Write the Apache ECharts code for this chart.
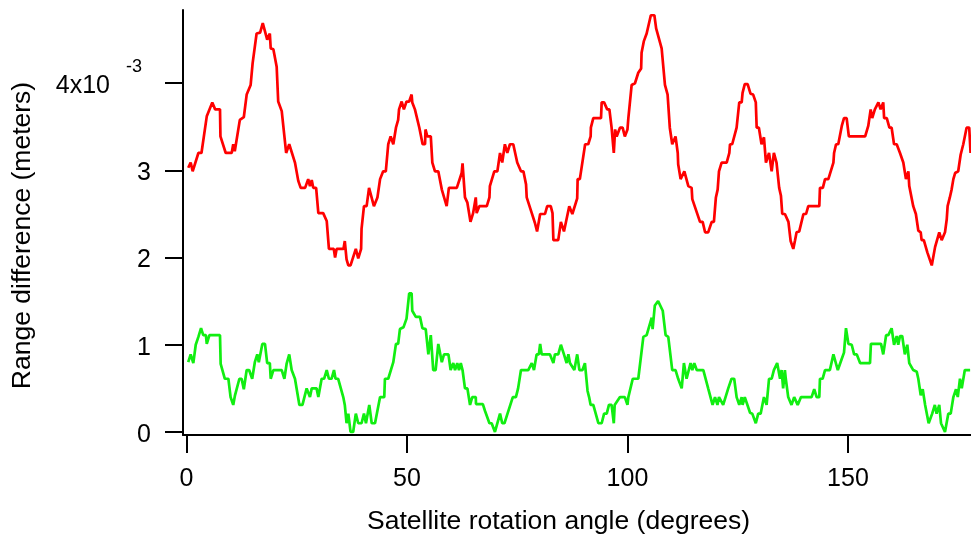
<!DOCTYPE html>
<html>
<head>
<meta charset="utf-8">
<script src="https://cdn.jsdelivr.net/npm/echarts@6/dist/echarts.min.js"></script>
<style>html,body{margin:0;padding:0;background:#fff}#c{width:971px;height:540px}</style>
</head>
<body>
<div id="c"></div>
<script>
// Range difference in units of 1e-3 m, angle in degrees
const redAngle = [0.4,0.95,1.4,2.7,3.4,4.6,5.85,6.5,7.6,7.7,8.9,10.25,10.6,10.95,12.1,13.0,13.65,14.55,15.0,15.9,16.7,17.3,18.3,18.9,19.1,19.7,20.45,20.8,21.6,22.6,23.3,24.6,25.0,25.35,25.9,26.9,27.6,28.0,28.4,28.75,29.4,29.9,31.0,31.8,32.3,33.4,33.7,34.05,35.6,35.9,36.3,36.7,37.2,38.4,38.95,39.6,39.7,40.25,40.85,41.4,42.5,43.3,43.9,44.6,45.2,45.75,46.3,46.9,47.5,48.0,48.2,48.8,49.3,49.9,50.5,51.05,51.2,51.8,52.8,53.55,54.1,54.2,54.6,55.4,55.75,56.35,57.1,57.9,59.0,59.5,61.3,62.4,62.6,63.15,63.7,64.4,65.0,65.6,65.8,66.4,68.1,68.7,68.8,69.8,70.5,71.1,71.6,72.2,72.75,73.35,74.1,75.0,75.85,76.4,77.0,77.15,78.3,79.0,79.5,80.2,81.3,81.8,82.6,83.0,83.2,84.3,84.9,85.6,86.8,87.5,88.6,88.7,89.2,90.4,91.1,91.65,91.7,92.25,94.0,94.15,94.7,95.4,95.9,96.4,96.9,97.2,97.55,98.3,98.9,99.4,100.0,100.2,100.95,101.7,102.45,103.1,103.2,103.7,104.35,105.3,106.1,106.5,107.75,108.5,109.1,109.6,110.15,110.9,111.4,111.5,112.05,112.9,113.8,114.55,114.7,116.45,117.05,117.6,118.3,119.1,119.6,120.05,120.45,120.75,121.35,122.5,123.1,123.25,123.75,124.75,125.35,125.9,126.1,126.6,127.25,127.9,128.5,129.1,129.3,129.8,130.4,130.95,131.4,132.1,132.7,133.2,133.8,134.4,134.8,135.1,135.7,136.5,137.0,137.6,138.0,138.35,138.95,139.9,140.5,141.0,143.5,143.65,144.3,144.8,145.55,146.7,146.85,147.3,147.8,148.6,149.1,149.7,150.2,153.9,154.6,155.15,155.5,156.1,156.9,157.4,158.0,158.2,158.8,159.4,159.9,160.45,161.05,161.8,162.55,163.15,163.7,163.9,164.8,165.4,165.95,166.5,166.7,167.2,168.0,169.0,169.75,170.7,171.25,172.0,172.4,172.6,173.1,173.5,173.9,174.3,175.0,175.55,176.15,176.9,177.5,177.8];
const redRange = [3.03,3.09,2.99,3.20,3.20,3.62,3.78,3.70,3.70,3.39,3.20,3.20,3.30,3.22,3.58,3.61,3.87,3.98,4.23,4.57,4.58,4.69,4.50,4.57,4.40,4.39,4.19,3.79,3.68,3.20,3.30,3.09,3.09,2.88,2.80,2.80,2.90,2.82,2.89,2.80,2.80,2.51,2.51,2.42,2.10,2.10,2.00,2.10,2.10,2.19,1.98,1.91,1.91,2.10,1.99,2.10,2.33,2.59,2.59,2.80,2.59,2.69,2.90,2.99,2.99,3.30,3.39,3.30,3.49,3.58,3.70,3.79,3.70,3.79,3.79,3.87,3.78,3.70,3.49,3.30,3.30,3.47,3.39,3.39,3.09,2.99,2.99,2.78,2.59,2.80,2.80,2.97,3.08,2.69,2.63,2.41,2.51,2.69,2.51,2.59,2.59,2.69,2.82,2.99,2.99,3.20,3.09,3.30,3.20,3.30,3.30,3.09,2.99,2.99,2.84,2.69,2.51,2.40,2.30,2.50,2.50,2.59,2.59,2.51,2.20,2.20,2.41,2.30,2.59,2.50,2.68,2.90,2.90,3.30,3.30,3.39,3.49,3.60,3.60,3.78,3.78,3.70,3.70,3.49,3.20,3.47,3.39,3.49,3.49,3.39,3.47,3.60,3.98,4.00,4.12,4.17,4.35,4.48,4.57,4.78,4.78,4.63,4.40,3.98,3.87,3.49,3.30,3.39,3.20,3.07,2.90,2.99,2.82,2.80,2.67,2.41,2.41,2.29,2.29,2.41,2.41,2.69,2.78,2.99,3.09,3.09,3.20,3.30,3.30,3.49,3.78,3.78,3.89,3.99,3.99,3.88,3.87,3.78,3.49,3.49,3.30,3.38,3.09,3.20,2.99,3.20,3.09,2.80,2.71,2.50,2.50,2.41,2.19,2.10,2.20,2.29,2.30,2.50,2.50,2.59,2.59,2.80,2.80,2.90,2.90,3.09,3.20,3.30,3.30,3.51,3.60,3.60,3.39,3.39,3.51,3.70,3.60,3.70,3.78,3.70,3.78,3.60,3.60,3.49,3.49,3.30,3.30,3.20,3.09,2.90,2.99,2.82,2.59,2.50,2.31,2.29,2.20,2.20,2.06,1.91,2.12,2.29,2.20,2.29,2.44,2.59,2.69,2.78,2.90,2.97,2.99,3.18,3.30,3.49,3.49,3.20];
const greenAngle = [0.4,0.95,1.55,2.1,2.7,3.3,3.8,4.4,4.6,5.2,7.6,7.75,8.7,9.5,10.0,10.4,10.6,11.0,12.0,12.5,13.0,13.65,14.2,14.9,15.5,16.05,16.4,17.2,17.8,18.3,18.9,19.1,19.7,21.6,22.2,22.7,23.3,23.85,24.6,25.0,25.6,26.3,27.25,27.6,28.0,28.4,29.5,29.9,30.65,31.2,31.8,32.3,32.9,33.45,33.8,34.4,35.55,35.9,36.3,36.7,37.2,37.8,38.4,38.95,39.7,40.25,40.7,41.45,42.0,42.75,43.9,44.85,45.0,45.75,46.9,47.5,48.0,48.4,49.2,49.9,50.5,51.05,51.2,52.0,52.95,53.5,54.25,54.85,55.4,55.95,56.5,57.1,57.9,58.4,59.4,59.9,60.5,60.9,61.4,61.8,62.2,62.6,63.15,63.7,64.3,64.8,65.6,65.65,67.2,67.7,68.7,69.2,69.95,70.3,71.1,71.6,72.1,72.8,74.0,74.7,75.2,75.85,77.5,78.3,78.8,79.4,79.9,80.2,80.55,82.4,83.2,83.55,84.3,84.9,85.6,86.2,86.6,86.95,87.95,88.6,89.1,89.8,90.35,90.95,91.3,91.65,92.25,93.4,94.15,94.7,95.3,95.8,96.4,96.9,97.1,98.3,99.4,100.0,100.2,101.2,102.45,103.6,104.35,105.5,105.7,106.2,106.95,108.0,108.65,109.25,110.15,110.9,111.5,112.3,112.8,113.4,114.3,114.7,115.15,115.7,117.2,118.3,119.3,119.85,120.4,120.75,121.2,121.7,122.85,123.6,124.2,124.75,125.35,125.9,126.1,126.6,127.8,128.3,129.1,129.65,130.2,130.95,131.55,132.1,132.7,133.2,133.95,134.6,134.95,135.3,135.7,135.9,136.45,137.2,137.8,138.6,139.35,141.75,142.35,142.9,143.5,143.65,144.25,144.8,145.9,146.7,147.7,148.6,149.1,149.55,150.1,150.85,151.4,152.0,152.75,155.0,155.2,157.5,158.0,158.65,159.15,159.9,160.45,161.05,161.4,161.8,162.3,162.9,163.45,163.9,164.8,165.6,165.95,166.5,166.95,167.5,168.3,169.1,169.7,170.1,170.7,171.1,172.0,172.75,173.3,173.9,174.5,174.9,175.4,175.8,176.5,177.7];
const greenRange = [0.80,0.89,0.79,1.00,1.09,1.19,1.11,1.11,1.01,1.11,1.11,0.78,0.61,0.61,0.40,0.40,0.31,0.42,0.61,0.61,0.49,0.71,0.71,0.61,0.80,0.89,0.80,1.01,1.01,0.79,0.79,0.61,0.71,0.71,0.61,0.78,0.89,0.71,0.61,0.61,0.31,0.31,0.50,0.50,0.40,0.50,0.50,0.40,0.61,0.61,0.71,0.61,0.61,0.71,0.61,0.61,0.40,0.31,0.10,0.21,0.00,0.00,0.21,0.10,0.10,0.21,0.10,0.31,0.10,0.10,0.40,0.40,0.61,0.61,0.80,1.01,1.01,1.18,1.20,1.30,1.59,1.59,1.39,1.32,1.32,1.19,1.18,0.89,1.11,0.71,0.71,1.01,0.80,0.89,0.89,0.71,0.79,0.71,0.79,0.71,0.79,0.71,0.50,0.50,0.31,0.40,0.40,0.32,0.32,0.24,0.10,0.10,0.00,0.00,0.21,0.10,0.10,0.21,0.40,0.40,0.50,0.71,0.71,0.79,0.71,0.89,0.89,1.01,0.89,0.89,0.79,0.89,0.89,1.00,0.89,0.79,0.89,0.79,0.71,0.89,0.71,0.71,0.79,0.47,0.40,0.31,0.31,0.10,0.10,0.21,0.21,0.31,0.31,0.10,0.31,0.40,0.40,0.31,0.40,0.61,0.61,1.09,1.11,1.31,1.18,1.45,1.50,1.39,1.11,1.09,0.71,0.71,0.61,0.50,0.79,0.61,0.79,0.71,0.79,0.71,0.71,0.50,0.31,0.40,0.31,0.40,0.40,0.31,0.50,0.61,0.61,0.40,0.31,0.40,0.31,0.40,0.22,0.21,0.10,0.21,0.21,0.40,0.31,0.61,0.61,0.71,0.79,0.61,0.71,0.50,0.71,0.61,0.40,0.31,0.40,0.31,0.40,0.40,0.49,0.40,0.40,0.61,0.61,0.71,0.71,0.89,0.71,0.84,0.91,1.19,1.01,1.00,0.89,0.89,0.79,0.79,1.01,1.01,0.89,1.11,1.11,1.19,1.00,1.10,1.00,1.10,1.10,0.89,1.00,0.79,0.71,0.69,0.61,0.42,0.49,0.31,0.10,0.21,0.31,0.21,0.31,0.10,0.00,0.21,0.21,0.40,0.49,0.40,0.61,0.50,0.71,0.71];

const xTicks = [0, 50, 100, 150];
const yTicks = [0, 1, 2, 3, 4];
const yTickLabels = ['0', '1', '2', '3', '4x10'];
const yExponent = '-3';

const FONT = 'Liberation Sans, Arial, sans-serif';
const zip = (xs, ys) => xs.map((x, i) => [x, ys[i]]);

const chart = echarts.init(document.getElementById('c'), null, {renderer: 'canvas'});
chart.setOption({
  animation: false,
  backgroundColor: '#ffffff',
  grid: {left: 183, right: 0, top: 10, bottom: 104, containLabel: false},
  xAxis: {
    type: 'value',
    min: -0.79, max: 177.9,
    name: 'Satellite rotation angle (degrees)',
    nameLocation: 'middle',
    nameGap: 73,
    nameTextStyle: {fontFamily: FONT, fontSize: 26.5, color: '#000', padding: [0, 37, 0, 0]},
    axisLine: {show: true, onZero: false, lineStyle: {color: '#000', width: 2}},
    axisTick: {show: true, inside: false, length: 18, lineStyle: {color: '#000', width: 2}, customValues: xTicks},
    axisLabel: {show: true, margin: 32, fontFamily: FONT, fontSize: 25, color: '#000', customValues: xTicks},
    splitLine: {show: false}
  },
  yAxis: {
    type: 'value',
    min: -0.035, max: 4.84,
    name: 'Range difference (meters)',
    nameLocation: 'middle',
    nameGap: 147,
    nameRotate: 90,
    nameTextStyle: {fontFamily: FONT, fontSize: 26.5, color: '#000', padding: [0, 26, 0, 0]},
    axisLine: {show: true, onZero: false, lineStyle: {color: '#000', width: 2}},
    axisTick: {show: true, inside: false, length: 18, lineStyle: {color: '#000', width: 2}, customValues: yTicks},
    axisLabel: {
      show: true, margin: 32, customValues: yTicks,
      formatter: function (v) {
        const i = yTicks.indexOf(Math.round(v));
        const t = yTickLabels[i];
        return i === yTicks.length - 1 ? '{m|' + t + '}{s|' + yExponent + '}' : '{m|' + t + '}';
      },
      rich: {
        m: {fontFamily: FONT, fontSize: 25, color: '#000', padding: [6, 0, 0, 0], verticalAlign: 'middle'},
        s: {fontFamily: FONT, fontSize: 18, color: '#000', padding: [0, 9, 33, 16], verticalAlign: 'middle'}
      }
    },
    splitLine: {show: false}
  },
  series: [
    {type: 'line', data: zip(redAngle, redRange), showSymbol: false, symbol: 'none', lineStyle: {color: '#ff0000', width: 2.7}, itemStyle: {color: '#ff0000'}, z: 3},
    {type: 'line', data: zip(greenAngle, greenRange), showSymbol: false, symbol: 'none', lineStyle: {color: '#11ee11', width: 2.7}, itemStyle: {color: '#11ee11'}, z: 3}
  ]
});
</script>
</body>
</html>
